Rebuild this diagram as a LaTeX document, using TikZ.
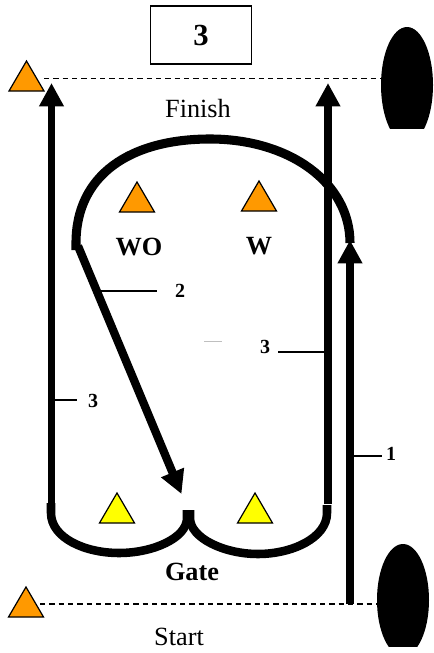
\documentclass[tikz,border=0pt]{standalone}
\usepackage{fontspec}
\setmainfont{Liberation Serif}
\usetikzlibrary{arrows.meta}
\definecolor{coneorange}{RGB}{255,153,0}
\definecolor{coneyellow}{RGB}{255,255,0}
\tikzset{
  x=0.75pt,y=-0.75pt,
  conebase/.style={draw=black,line width=0.9pt,line join=miter},
  thickpath/.style={line width=5.6pt,draw=black},
  curvepath/.style={line width=6.8pt,draw=black},
  bigarrow/.style={thickpath,-{Triangle[length=17.5pt,width=17.5pt]}},
  leader/.style={line width=1.1pt,draw=black},
  finishline/.style={line width=1pt,draw=black,dash pattern=on 4pt off 3pt},
  txtlabel/.style={inner sep=0pt,font=\fontsize{19.7pt}{22pt}\selectfont},
  boldlabel/.style={inner sep=0pt,font=\fontsize{19.7pt}{22pt}\selectfont\bfseries},
  numlabel/.style={inner sep=2pt,font=\fontsize{15pt}{17pt}\selectfont\bfseries},
}
\newcommand{\conemark}[3]{\filldraw[conebase,fill=#3] (#1-17.5,#2+30) -- (#1,#2) -- (#1+17.5,#2+30) -- cycle;}
\begin{document}
\begin{tikzpicture}
\useasboundingbox (0,0) rectangle (433,653);
\fill[white] (0,0) rectangle (433,653);
% finish and start lines
\coordinate (finL) at (44,78.5);
\coordinate (finR) at (385,78.5);
\coordinate (staL) at (40,604);
\coordinate (staR) at (380,604);
\draw[finishline] (finL) -- (finR);
\draw[finishline] (staL) -- (staR);
% black posts, clipped
\begin{scope}
  \clip (370,0) rectangle (433,128);
  \fill[black] (407,85) ellipse [x radius=26,y radius=58];
\end{scope}
\begin{scope}
  \clip (370,530) rectangle (433,646);
  \fill[black] (403,600) ellipse [x radius=26,y radius=56];
\end{scope}
% cones
\conemark{26.5}{61}{coneorange}
\conemark{137}{182}{coneorange}
\conemark{259}{181}{coneorange}
\conemark{117}{493}{coneyellow}
\conemark{255}{493}{coneyellow}
\conemark{26}{587}{coneorange}
% box
\node[draw=black,line width=1pt,minimum width=76pt,minimum height=43.5pt,inner sep=0pt,
      font=\fontsize{23pt}{26pt}\selectfont\bfseries] (box) at (201,35) {3};
% labels
\node[txtlabel] (finish) at (198,108.5) {Finish};
\node[boldlabel] (wo) at (139,247) {WO};
\node[boldlabel] (w) at (259,246) {W};
\node[boldlabel] (gate) at (192,572) {Gate};
\node[txtlabel] (start) at (179,637) {Start};
\node[numlabel] (n2) at (180,291) {2};
\node[numlabel] (n3r) at (265,347) {3};
\node[numlabel] (n3l) at (93,401) {3};
\node[numlabel] (n1) at (391,454) {1};
% arc over the top
\coordinate (arcL) at (76,250);
\coordinate (arcT) at (210,139);
\coordinate (arcR) at (350,243);
\draw[curvepath] (arcL) -- (76,243) .. controls (76,175) and (130,139) .. (arcT) .. controls (290,139) and (350,183) .. (arcR);
% arrows
\coordinate (leftB) at (51.5,508);
\coordinate (leftT) at (51.5,83);
\coordinate (rightB) at (328,504);
\coordinate (rightT) at (328,83);
\coordinate (oneB) at (350,604);
\coordinate (oneT) at (350,240);
\coordinate (twoB) at (78,246);
\coordinate (twoT) at (181.5,494);
\draw[bigarrow] (leftB) -- (leftT);
\draw[bigarrow] (rightB) -- (rightT);
\draw[bigarrow] (oneB) -- (oneT);
\draw[bigarrow,line width=6.2pt] (twoB) -- (twoT);
% gate curves
\coordinate (uLs) at (51,503);
\coordinate (uLe) at (187,510);
\coordinate (uRs) at (190,510);
\coordinate (uRe) at (327,505);
\draw[curvepath,line width=6.4pt] (uLs) -- (51,513) .. controls (51,538) and (85,553) .. (119,553) .. controls (153,553) and (187,538) .. (187,518) -- (uLe);
\draw[curvepath,line width=6.4pt] (uRs) -- (190,518) .. controls (190,538) and (224,554) .. (258,554) .. controls (292,554) and (327,538) .. (327,513) -- (uRe);
% leaders
\coordinate (lead2) at (100,291);
\coordinate (lead3r) at (325,352);
\coordinate (lead3l) at (55,400);
\coordinate (lead1) at (354,456);
\coordinate (lead2e) at (157,291);
\coordinate (lead3re) at (278,352);
\coordinate (lead3le) at (77,400);
\coordinate (lead1e) at (382,456);
\draw[leader] (lead2) -- (lead2e);
\draw[leader] (lead3r) -- (lead3re);
\draw[leader] (lead3l) -- (lead3le);
\draw[leader] (lead1) -- (lead1e);
% faint stray mark
\coordinate (markL) at (204,341.5);
\coordinate (markR) at (222,341.5);
\draw[line width=0.6pt,black!25] (markL) -- (markR);
\end{tikzpicture}
\end{document}
